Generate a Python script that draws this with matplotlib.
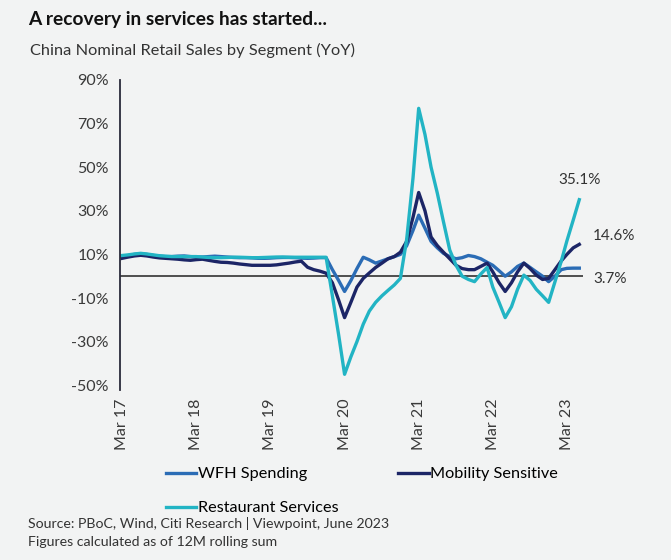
import pandas as pd
import matplotlib
matplotlib.use("Agg")
from matplotlib import pyplot as plt

plt.rcParams['font.family'] = ['Lato', 'DejaVu Sans']

# monthly, Mar 2017 .. May 2023
dates = pd.date_range('2017-03-01', periods=75, freq='MS')

wfh = [9.0, 9.5, 10.0, 10.3, 10.0, 9.5, 9.2, 9.0, 9.0, 9.2, 9.3, 9.0,
       8.8, 8.8, 9.0, 9.2, 9.0, 8.8, 8.6, 8.5, 8.5, 8.4, 8.2, 8.2,
       8.3, 8.5, 8.6, 8.6, 8.5, 8.3, 8.2, 8.3, 8.5, 8.5, 3.0, -2.0,
       -7.0, -2.0, 3.5, 8.7, 7.5, 6.0, 7.0, 8.0, 9.0, 10.0, 14.0, 21.0,
       28.0, 22.0, 16.0, 13.0, 10.5, 9.0, 8.0, 8.5, 9.5, 9.0, 8.0, 6.4,
       5.0, 2.5, 0.0, 2.0, 4.5, 6.0, 4.0, 2.0, 0.0, -2.5, 0.0, 3.0,
       3.6, 3.7, 3.7]

mobility = [8.2, 8.8, 9.3, 9.6, 9.3, 8.8, 8.4, 8.2, 8.0, 7.8, 7.5, 7.3,
            7.6, 7.8, 7.3, 6.8, 6.4, 6.3, 6.0, 5.6, 5.3, 5.0, 5.0, 5.0,
            5.0, 5.2, 5.6, 6.0, 6.5, 6.9, 4.1, 3.0, 2.3, 1.4, -3.0, -11.0,
            -19.0, -12.0, -5.0, -1.0, 1.5, 4.0, 6.0, 8.0, 9.0, 11.0, 16.0, 27.0,
            38.4, 30.0, 18.0, 14.0, 11.0, 8.0, 5.0, 3.5, 3.0, 3.0, 4.5, 6.0,
            2.0, -3.0, -7.0, -3.0, 2.0, 6.0, 3.5, 0.5, -1.5, -1.0, 3.0, 7.0,
            10.0, 13.0, 14.6]

restaurant = [9.5, 9.8, 10.2, 10.5, 10.2, 9.8, 9.4, 9.2, 9.0, 9.0, 9.0, 9.0,
              9.0, 8.8, 8.6, 8.5, 8.5, 8.6, 8.7, 8.7, 8.6, 8.5, 8.5, 8.6,
              8.7, 8.8, 8.8, 8.7, 8.7, 8.7, 8.7, 8.7, 8.7, 8.7, -9.0, -27.0,
              -45.0, -37.0, -30.0, -22.0, -16.0, -12.0, -9.0, -6.5, -4.0, -1.0, 17.0, 45.0,
              77.0, 65.0, 50.0, 38.0, 25.0, 12.0, 5.0, 0.0, -1.5, -2.5, 1.0, 4.0,
              -5.0, -12.0, -19.0, -14.0, -6.0, 0.5, -2.0, -6.0, -9.0, -12.0, -2.6, 6.8,
              16.2, 25.7, 35.1]

end_labels = ['3.7%', '14.6%', '35.1%']
tick_dates = pd.date_range('2017-03-01', periods=7, freq='12MS')
yticks = [90, 70, 50, 30, 10, -10, -30, -50]

c_wfh = '#2b6cb5'
c_mob = '#1c2566'
c_rest = '#22b4c4'
bg = '#f2f3f3'

fig = plt.figure(figsize=(6.71, 5.6), dpi=100, facecolor=bg)
ax = fig.add_axes([120/671, 1-390/560, 480/671, 310/560], facecolor=bg)

l1, = ax.plot(dates, wfh, color=c_wfh, lw=2.4, label='WFH Spending')
l2, = ax.plot(dates, mobility, color=c_mob, lw=2.4, label='Mobility Sensitive')
l3, = ax.plot(dates, restaurant, color=c_rest, lw=2.4, label='Restaurant Services')

ax.hlines(0, dates[0] - pd.Timedelta(days=10), dates[-1] + pd.Timedelta(days=18),
          color='#222222', lw=1.1, zorder=1)

ax.set_xlim(dates[0] - pd.Timedelta(days=10), dates[0] + pd.Timedelta(days=int(77.35*30.44)))
ax.set_ylim(-52.2, 89.7)

for s in ['top', 'right', 'bottom']:
    ax.spines[s].set_visible(False)
ax.spines['left'].set_color('#2a2a3a')
ax.spines['left'].set_linewidth(1.3)

ax.set_yticks(yticks)
ax.set_yticklabels([f'{v}%' for v in yticks])
ax.set_xticks(tick_dates)
ax.set_xticklabels([d.strftime('Mar %y') for d in tick_dates], rotation=90)
ax.tick_params(axis='both', length=0, labelsize=11.5, colors='#3a3a3a')
ax.tick_params(axis='x', pad=6)
ax.tick_params(axis='y', pad=8)

# end values
ax.annotate(end_labels[2], (dates[-1], restaurant[-1]), xytext=(0, 14),
            textcoords='offset points', ha='center', va='center', fontsize=11, color='#333333')
ax.annotate(end_labels[1], (dates[-1], mobility[-1]), xytext=(10, 6),
            textcoords='offset points', ha='left', va='center', fontsize=11, color='#333333')
ax.annotate(end_labels[0], (dates[-1], 0), xytext=(10, -2),
            textcoords='offset points', ha='left', va='center', fontsize=11, color='#333333')

fig.text(28/671, 1-20/560, 'A recovery in services has started...', fontsize=13.8,
         fontweight='bold', color='#111111', va='center')
fig.text(30/671, 1-50/560, 'China Nominal Retail Sales by Segment (YoY)', fontsize=11.8,
         color='#333333', va='center')

fig.legend([l1, l3, l2], ['WFH Spending', 'Restaurant Services', 'Mobility Sensitive'],
           ncol=2, loc='upper left', bbox_to_anchor=(166/671, 1-467/560), frameon=False,
           fontsize=11.7, handlelength=1.85, handletextpad=0.1, columnspacing=3.7,
           labelspacing=1.2, borderaxespad=0, borderpad=0)

fig.text(28/671, 1-524/560, 'Source: PBoC, Wind, Citi Research | Viewpoint, June 2023',
         fontsize=10.2, color='#333333', va='center')
fig.text(28/671, 1-542/560, 'Figures calculated as of 12M rolling sum',
         fontsize=10.2, color='#333333', va='center')

fig.savefig('out.png', dpi=100, facecolor=bg)
